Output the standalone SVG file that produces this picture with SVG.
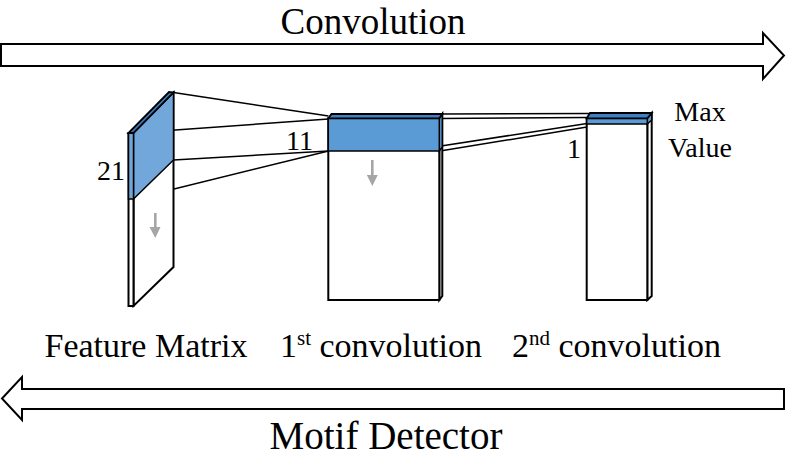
<svg xmlns="http://www.w3.org/2000/svg" width="786" height="457" viewBox="0 0 786 457">
<style>
text{font-family:"Liberation Serif","Times New Roman",serif;fill:#000}
.big{font-size:37px}
.lbl{font-size:34px}
.num{font-size:28px}
.face{fill:#fff;stroke:#000;stroke-width:2;stroke-linejoin:miter}
.blue{fill:#5b9bd5;stroke:#000;stroke-width:1.5}
.lblue{fill:#72a7dc;stroke:#000;stroke-width:1.5}
.dblue{fill:#3f7fc2;stroke:#000;stroke-width:1.8}
.conn{stroke:#000;stroke-width:1.5;fill:none}
.bigarrow{fill:#fff;stroke:#000;stroke-width:2}
.garrow{fill:#a6a6a6}
</style>
<rect width="786" height="457" fill="#fff"/>

<g id="convolution-arrow">
<polygon class="bigarrow" points="1,44 763,44 763,33 784,55.5 763,79 763,66 1,66"/>
<text class="big" x="373" y="34" text-anchor="middle">Convolution</text>
</g>

<g id="motif-arrow">
<polygon class="bigarrow" points="784,389 22,389 22,377 2,398.5 22,420 22,409 784,409"/>
<text class="big" x="386" y="449" text-anchor="middle" style="font-size:39px">Motif Detector</text>
</g>

<g id="connectors">
<line class="conn" x1="173.5" y1="92.5" x2="328.5" y2="116"/>
<line class="conn" x1="133.5" y1="133" x2="328.5" y2="119"/>
<line class="conn" x1="173.5" y1="160" x2="328.5" y2="151"/>
<line class="conn" x1="133.5" y1="199" x2="328.5" y2="151"/>
<line class="conn" x1="442" y1="114" x2="589" y2="113.5"/>
<line class="conn" x1="440" y1="118.5" x2="587" y2="117.5"/>
<line class="conn" x1="441" y1="146" x2="587" y2="123.5"/>
<line class="conn" x1="440" y1="151" x2="587" y2="127"/>
</g>

<g id="feature-matrix">
<polygon class="face" points="133.5,133 173.5,92.5 173.5,267 133.5,306"/>
<rect class="face" x="128.5" y="133" width="5" height="173"/>
<polygon class="lblue" points="133.5,133 173.5,92.5 173.5,160 133.5,199"/>
<rect class="lblue" x="128.5" y="133" width="5" height="66"/>
<polygon class="dblue" points="128.5,133 169,92 173.5,92.5 133.5,133"/>
<rect class="garrow" x="154" y="213" width="2.6" height="15"/>
<polygon class="garrow" points="149.5,227 160.5,227 155.3,238"/>
<text class="num" x="125" y="180" text-anchor="end">21</text>
<text class="lbl" x="146" y="357" text-anchor="middle">Feature Matrix</text>
</g>

<g id="first-convolution">
<polygon class="face" points="439.3,118.3 442.3,114 442.3,296 439.3,300"/>
<rect class="face" x="328.3" y="118.3" width="111" height="181.7"/>
<polygon class="blue" points="439.3,118.3 442.3,114 442.3,147 439.3,151"/>
<rect class="blue" x="328.3" y="118.3" width="111" height="32.7"/>
<polygon class="dblue" points="328.3,118.3 331.5,114 442.3,114 439.3,118.3"/>
<rect class="garrow" x="371" y="160" width="2.6" height="16"/>
<polygon class="garrow" points="366.8,175 377.8,175 372.3,186"/>
<text class="num" x="313" y="150" text-anchor="end">11</text>
<text class="lbl" x="280" y="357">1<tspan font-size="21" dy="-12">st</tspan><tspan dy="12"> convolution</tspan></text>
</g>

<g id="second-convolution">
<polygon class="face" points="647.3,118.3 651.7,113 651.7,296 647.3,300"/>
<rect class="face" x="586.7" y="118.3" width="60.6" height="181.7"/>
<polygon class="blue" points="647.3,118.3 651.7,113 651.7,120 647.3,124"/>
<rect class="blue" x="586.7" y="118.3" width="60.6" height="5.7"/>
<polygon class="dblue" points="586.7,118.3 590,113 651.7,113 647.3,118.3"/>
<text class="num" x="581" y="158" text-anchor="end">1</text>
<text class="num" x="700" y="121" text-anchor="middle">Max</text>
<text class="num" x="700" y="157" text-anchor="middle">Value</text>
<text class="lbl" x="512" y="357">2<tspan font-size="21" dy="-12">nd</tspan><tspan dy="12"> convolution</tspan></text>
</g>
</svg>
